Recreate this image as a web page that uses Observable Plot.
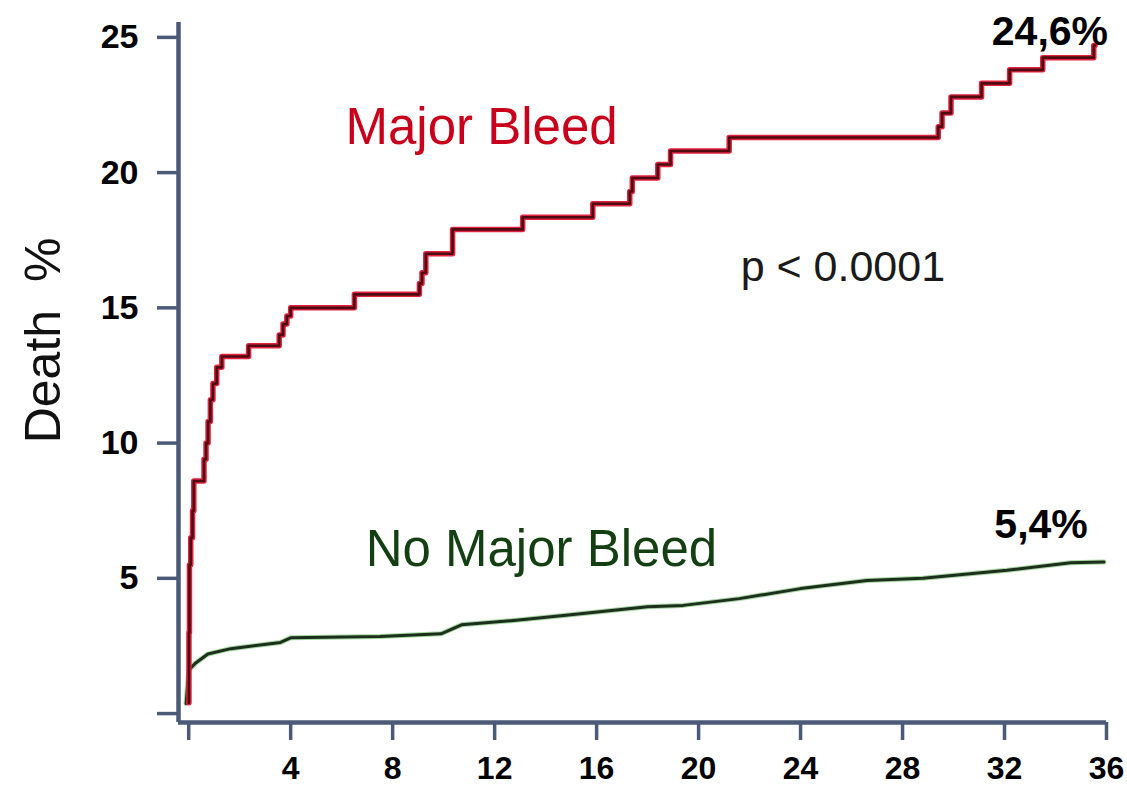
<!DOCTYPE html>
<html>
<head>
<meta charset="utf-8">
<script src="https://cdn.jsdelivr.net/npm/d3@7"></script>
<script src="https://cdn.jsdelivr.net/npm/@observablehq/plot@0.6"></script>
<style>
  html, body { margin: 0; padding: 0; background: #fff; }
  svg text { white-space: pre; }
</style>
</head>
<body>
<div id="chart"></div>
<script>
// Months since event
const majorMonths = [0, 0.01, 0.03, 0.08, 0.15, 0.2, 0.6, 0.68, 0.76, 0.85, 0.95, 1.1, 1.3, 2.35, 3.55, 3.7, 3.85, 4.0, 6.5, 9.05, 9.15, 9.3, 10.35, 13.1, 15.85, 17.3, 17.4, 18.4, 18.9, 21.2, 29.4, 29.55, 29.9, 31.1, 32.2, 33.5, 35.5, 35.55];
// Death % (Major Bleed)
const majorDeath = [0.4, 3.0, 5.5, 6.5, 7.5, 8.6, 9.4, 10.0, 10.8, 11.6, 12.2, 12.8, 13.2, 13.6, 14.0, 14.4, 14.7, 15.0, 15.5, 15.9, 16.3, 17.0, 17.9, 18.35, 18.85, 19.3, 19.8, 20.3, 20.8, 21.3, 21.7, 22.2, 22.8, 23.3, 23.8, 24.25, 24.7, 24.7];

const noMajorMonths = [-0.1, 0.0, 0.25, 0.75, 1.65, 3.6, 4.0, 7.5, 9.9, 10.7, 12.75, 14.7, 18.0, 19.4, 21.6, 24.0, 26.6, 28.8, 32.1, 34.6, 35.9];
const noMajorDeath = [0.37, 1.6, 1.85, 2.2, 2.4, 2.63, 2.8, 2.85, 2.95, 3.28, 3.44, 3.63, 3.95, 4.0, 4.25, 4.62, 4.92, 5.0, 5.3, 5.58, 5.6];

const xTicks = [0, 4, 8, 12, 16, 20, 24, 28, 32, 36];
const yTicks = [0, 5, 10, 15, 20, 25];

const seriesNames = ["Major Bleed", "No Major Bleed"];
const endLabels = ["24,6%", "5,4%"];
const pLabel = "p < 0.0001";
const yLabel = "Death  %";

const major = majorMonths.map((m, i) => ({month: m, death: majorDeath[i]}));
const noMajor = noMajorMonths.map((m, i) => ({month: m, death: noMajorDeath[i]}));

const xDomain = [-0.4, 36];
const yDomain = [-0.33, 25.55];
const axisColor = "#4a5a77";
const font = "'Liberation Sans', Arial, Helvetica, sans-serif";

const chart = Plot.plot({
  width: 1127,
  height: 786,
  marginLeft: 178,
  marginRight: 21,
  marginTop: 22,
  marginBottom: 64,
  x: {domain: xDomain},
  y: {domain: yDomain},
  style: {fontFamily: font, background: "#fff", overflow: "visible"},
  marks: [
    // curves
    Plot.line(noMajor, {x: "month", y: "death", stroke: "#a6d6a0", strokeWidth: 5, curve: "linear"}),
    Plot.line(noMajor, {x: "month", y: "death", stroke: "#1c2f1c", strokeWidth: 3, curve: "linear"}),
    Plot.line(major, {x: "month", y: "death", stroke: "#e3223f", strokeWidth: 5.5, curve: "step-after"}),
    Plot.line(major, {x: "month", y: "death", stroke: "#4d0b12", strokeWidth: 2.6, curve: "step-after"}),
    // axes
    Plot.axisY({ticks: yTicks, tickSize: 21, tickPadding: 19, stroke: axisColor, strokeWidth: 3.5, fill: "#000",
      fontSize: 34, fontWeight: "bold", tickFormat: d => d === 0 ? "" : String(d), label: null}),
    Plot.axisX({ticks: xTicks, tickSize: 18, tickPadding: 16, stroke: axisColor, strokeWidth: 3.5, fill: "#000",
      fontSize: 32, fontWeight: "bold", tickFormat: d => d === 0 ? "" : String(d), label: null}),
    Plot.ruleX([xDomain[0]], {stroke: axisColor, strokeWidth: 4.5}),
    Plot.ruleY([yDomain[0]], {stroke: axisColor, strokeWidth: 4.5}),
    // labels
    Plot.text([yLabel], {frameAnchor: "left", rotate: -90, dx: -135, dy: -32, textAnchor: "middle", lineAnchor: "middle",
      fontSize: 50, fill: "#111", text: d => d}),
    Plot.text([seriesNames[0]], {x: 6.15, y: 21.04, text: d => d, textAnchor: "start", lineAnchor: "bottom", fontSize: 51, fill: "#c8001c"}),
    Plot.text([seriesNames[1]], {x: 6.94, y: 5.47, text: d => d, textAnchor: "start", lineAnchor: "bottom", fontSize: 51, fill: "#133f12"}),
    Plot.text([pLabel], {x: 21.65, y: 16.0, text: d => d, textAnchor: "start", lineAnchor: "bottom", fontSize: 43, fill: "#1a1a1a"}),
    Plot.text([endLabels[0]], {x: 31.5, y: 24.73, text: d => d, textAnchor: "start", lineAnchor: "bottom", fontSize: 41, fontWeight: "bold", fill: "#000"}),
    Plot.text([endLabels[1]], {x: 31.6, y: 6.5, text: d => d, textAnchor: "start", lineAnchor: "bottom", fontSize: 41, fontWeight: "bold", fill: "#000"})
  ]
});
document.getElementById("chart").appendChild(chart);
</script>
</body>
</html>
